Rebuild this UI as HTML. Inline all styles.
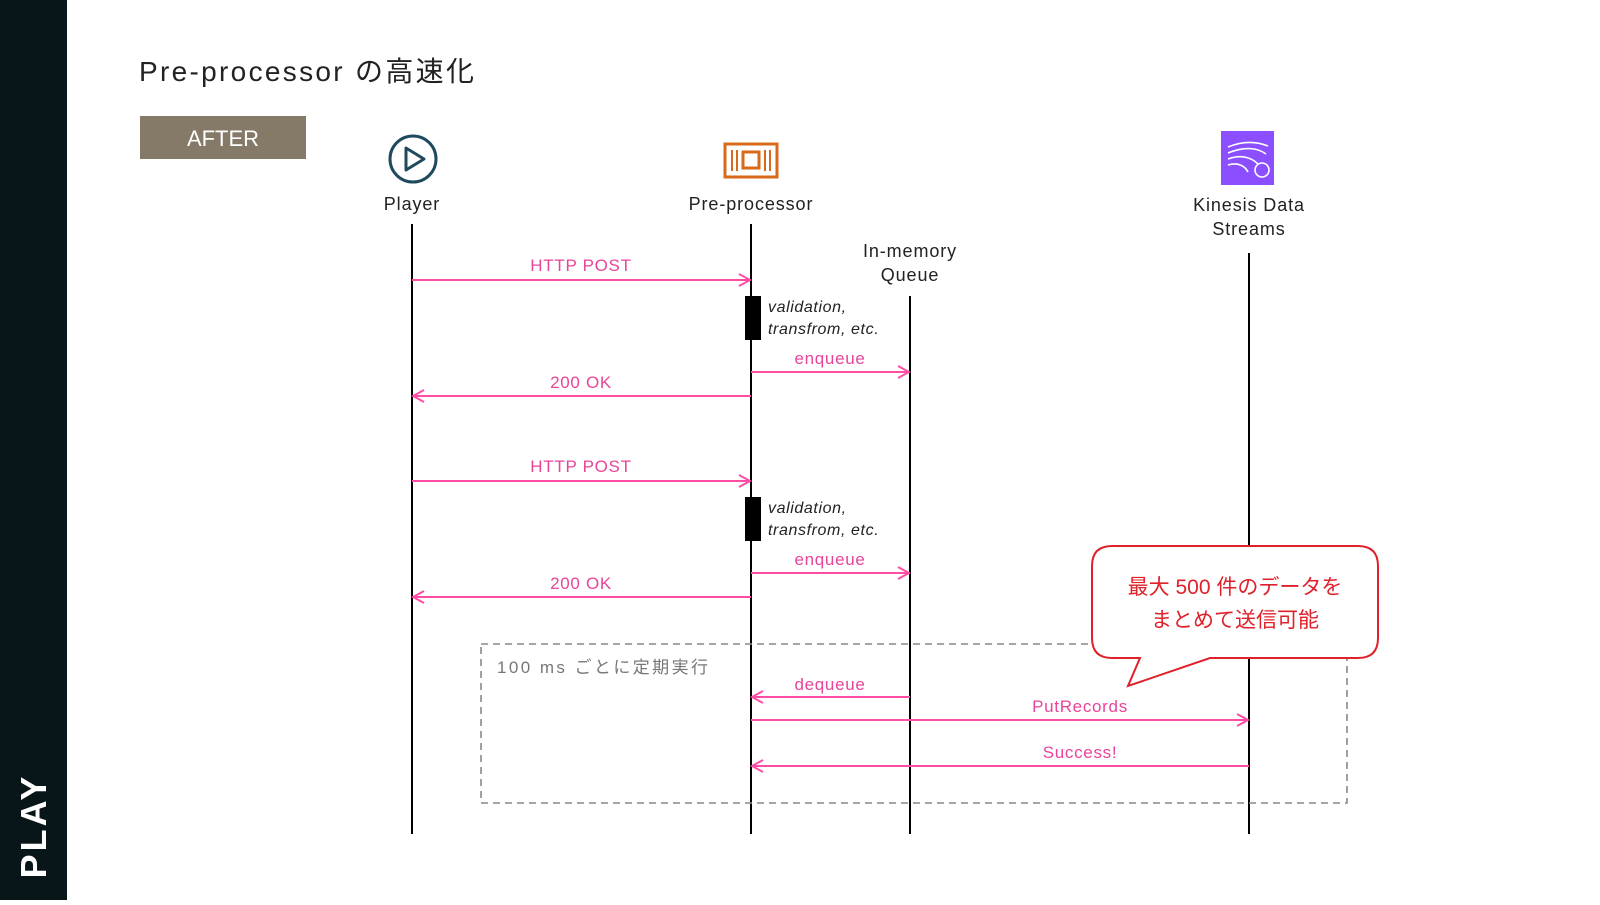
<!DOCTYPE html>
<html><head><meta charset="utf-8"><style>
body{margin:0;width:1600px;height:900px;background:#fff;overflow:hidden;font-family:"Liberation Sans","Noto Sans CJK JP",sans-serif;}
</style></head><body>
<svg width="1600" height="900" xmlns="http://www.w3.org/2000/svg" font-family="Liberation Sans, Noto Sans CJK JP, sans-serif">
<defs>
<marker id="a" markerWidth="14" markerHeight="14" refX="12" refY="7" orient="auto" markerUnits="userSpaceOnUse">
<path d="M1,1 L12,7 L1,13" fill="none" stroke="#ff4da6" stroke-width="2"/></marker>
</defs>
<rect x="0" y="0" width="67" height="900" fill="#08161a"/>
<text transform="translate(46,826) rotate(-90)" text-anchor="middle" fill="#fff" font-size="36" font-weight="bold" letter-spacing="3">PLAY</text>
<text x="139" y="81" font-size="28" fill="#222" textLength="335" lengthAdjust="spacing">Pre-processor の高速化</text>
<rect x="140" y="116" width="166" height="43" fill="#857a67"/>
<text x="223" y="146" font-size="22" fill="#fff" text-anchor="middle">AFTER</text>
<!-- icons -->
<circle cx="413" cy="159" r="23" fill="none" stroke="#1f4a5e" stroke-width="3"/>
<path d="M406,148 L424,159 L406,170 Z" fill="none" stroke="#1f4a5e" stroke-width="3" stroke-linejoin="round"/>
<rect x="725" y="144" width="52" height="33" fill="none" stroke="#d86a1a" stroke-width="3"/>
<g stroke="#d86a1a" stroke-width="2"><line x1="732" y1="150" x2="732" y2="171"/><line x1="737" y1="150" x2="737" y2="171"/><line x1="765" y1="150" x2="765" y2="171"/><line x1="770" y1="150" x2="770" y2="171"/></g>
<rect x="743" y="152" width="16" height="16" fill="none" stroke="#d86a1a" stroke-width="3"/>
<rect x="1221" y="131" width="53" height="54" fill="#8c4fff"/>
<g stroke="#fff" stroke-width="1.6" fill="none"><path d="M1228,147 C1245,140 1258,142 1268,146"/><path d="M1228,153 C1245,146 1258,148 1266,154"/><path d="M1228,159 C1242,154 1252,158 1258,164"/><path d="M1228,165 C1238,162 1245,166 1248,172"/><circle cx="1262" cy="170" r="7"/></g>
<g font-size="18" fill="#222" text-anchor="middle" letter-spacing="0.9">
<text x="412" y="210">Player</text>
<text x="751" y="210">Pre-processor</text>
<text x="1249" y="211">Kinesis Data</text>
<text x="1249" y="235">Streams</text>
<text x="910" y="257">In-memory</text>
<text x="910" y="281">Queue</text>
</g>
<g stroke="#000" stroke-width="2">
<line x1="412" y1="224" x2="412" y2="834"/>
<line x1="751" y1="224" x2="751" y2="834"/>
<line x1="910" y1="296" x2="910" y2="834"/>
<line x1="1249" y1="253" x2="1249" y2="834"/>
</g>
<rect x="481" y="644" width="866" height="159" fill="none" stroke="#888" stroke-width="1.6" stroke-dasharray="7,5"/>
<text x="497" y="673" font-size="17" fill="#777" textLength="211" lengthAdjust="spacing">100 ms ごとに定期実行</text>
<rect x="745" y="296" width="16" height="44" fill="#000"/>
<rect x="745" y="497" width="16" height="44" fill="#000"/>
<g font-size="16" font-style="italic" fill="#222" letter-spacing="0.6">
<text x="768" y="312">validation,</text><text x="768" y="334">transfrom, etc.</text>
<text x="768" y="513">validation,</text><text x="768" y="535">transfrom, etc.</text>
</g>
<g stroke="#ff4da6" stroke-width="2" marker-end="url(#a)">
<line x1="412" y1="280" x2="750" y2="280"/>
<line x1="751" y1="372" x2="909" y2="372"/>
<line x1="751" y1="396" x2="413" y2="396"/>
<line x1="412" y1="481" x2="750" y2="481"/>
<line x1="751" y1="573" x2="909" y2="573"/>
<line x1="751" y1="597" x2="413" y2="597"/>
<line x1="910" y1="697" x2="752" y2="697"/>
<line x1="751" y1="720" x2="1248" y2="720"/>
<line x1="1249" y1="766" x2="752" y2="766"/>
</g>
<g font-size="17" fill="#e8449a" text-anchor="middle" letter-spacing="0.7">
<text x="581" y="271">HTTP POST</text>
<text x="830" y="364">enqueue</text>
<text x="581" y="388">200 OK</text>
<text x="581" y="472">HTTP POST</text>
<text x="830" y="565">enqueue</text>
<text x="581" y="589">200 OK</text>
<text x="830" y="690">dequeue</text>
<text x="1080" y="712">PutRecords</text>
<text x="1080" y="758">Success!</text>
</g>
<path d="M1112,546 H1358 Q1378,546 1378,566 V638 Q1378,658 1358,658 H1210 L1128,686 L1140,658 H1112 Q1092,658 1092,638 V566 Q1092,546 1112,546 Z" fill="#fff" stroke="#e0202a" stroke-width="2"/>
<g font-size="21" fill="#e0202a" text-anchor="middle">
<text x="1235" y="594">最大 500 件のデータを</text>
<text x="1235" y="627">まとめて送信可能</text>
</g>
</svg>
</body></html>
